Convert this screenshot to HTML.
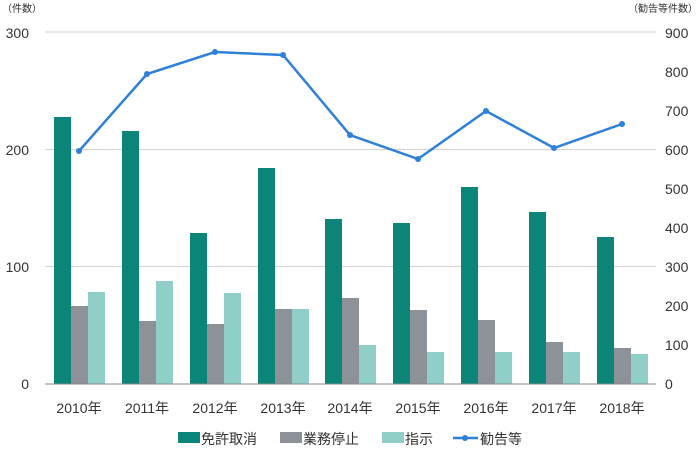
<!DOCTYPE html>
<html><head><meta charset="utf-8"><style>
body{margin:0;background:#fff}
text{font-family:"Liberation Sans","Noto Sans CJK JP",sans-serif;fill:#333}
</style></head><body>
<svg width="700" height="448" xmlns="http://www.w3.org/2000/svg">
<text x="2" y="12" font-size="10">（件数）</text>
<text x="698" y="12" font-size="10" text-anchor="end">（勧告等件数）</text>
<g stroke="#d6d6d6" stroke-width="1.3">
<line x1="45" x2="656" y1="32" y2="32"/><line x1="45" x2="656" y1="149.5" y2="149.5"/><line x1="45" x2="656" y1="266.5" y2="266.5"/>
</g>
<g font-size="14" text-anchor="end">
<text x="29" y="389">0</text><text x="29" y="272">100</text><text x="29" y="155">200</text><text x="29" y="38">300</text>
</g>
<g font-size="14">
<text x="665" y="389">0</text><text x="665" y="350">100</text><text x="665" y="311">200</text><text x="665" y="272">300</text><text x="665" y="233">400</text><text x="665" y="194">500</text><text x="665" y="155">600</text><text x="665" y="116">700</text><text x="665" y="77">800</text><text x="665" y="38">900</text>
</g>
<g>
<rect x="54" y="117" width="17" height="267" fill="#0a8577"/><rect x="71" y="306" width="17" height="78" fill="#8c9297"/><rect x="88" y="292" width="17" height="92" fill="#8fcfc7"/>
<rect x="122" y="131" width="17" height="253" fill="#0a8577"/><rect x="139" y="321" width="17" height="63" fill="#8c9297"/><rect x="156" y="281" width="17" height="103" fill="#8fcfc7"/>
<rect x="190" y="233" width="17" height="151" fill="#0a8577"/><rect x="207" y="324" width="17" height="60" fill="#8c9297"/><rect x="224" y="293" width="17" height="91" fill="#8fcfc7"/>
<rect x="258" y="168" width="17" height="216" fill="#0a8577"/><rect x="275" y="309" width="17" height="75" fill="#8c9297"/><rect x="292" y="309" width="17" height="75" fill="#8fcfc7"/>
<rect x="325" y="219" width="17" height="165" fill="#0a8577"/><rect x="342" y="298" width="17" height="86" fill="#8c9297"/><rect x="359" y="345" width="17" height="39" fill="#8fcfc7"/>
<rect x="393" y="223" width="17" height="161" fill="#0a8577"/><rect x="410" y="310" width="17" height="74" fill="#8c9297"/><rect x="427" y="352" width="17" height="32" fill="#8fcfc7"/>
<rect x="461" y="187" width="17" height="197" fill="#0a8577"/><rect x="478" y="320" width="17" height="64" fill="#8c9297"/><rect x="495" y="352" width="17" height="32" fill="#8fcfc7"/>
<rect x="529" y="212" width="17" height="172" fill="#0a8577"/><rect x="546" y="342" width="17" height="42" fill="#8c9297"/><rect x="563" y="352" width="17" height="32" fill="#8fcfc7"/>
<rect x="597" y="237" width="17" height="147" fill="#0a8577"/><rect x="614" y="348" width="17" height="36" fill="#8c9297"/><rect x="631" y="354" width="17" height="30" fill="#8fcfc7"/>
</g>
<line x1="45" x2="656" y1="384" y2="384" stroke="#888" stroke-width="1"/>
<polyline fill="none" stroke="#2f80d9" stroke-width="2.5" points="79,151 147,74 215,52 283,55 350,135 418,159 486,111 554,148 622,124"/>
<g fill="#2f80d9"><circle cx="79" cy="151" r="3"/><circle cx="147" cy="74" r="3"/><circle cx="215" cy="52" r="3"/><circle cx="283" cy="55" r="3"/><circle cx="350" cy="135" r="3"/><circle cx="418" cy="159" r="3"/><circle cx="486" cy="111" r="3"/><circle cx="554" cy="148" r="3"/><circle cx="622" cy="124" r="3"/></g>
<g font-size="14" text-anchor="middle">
<text x="79" y="413">2010年</text><text x="147" y="413">2011年</text><text x="215" y="413">2012年</text><text x="283" y="413">2013年</text><text x="350" y="413">2014年</text><text x="418" y="413">2015年</text><text x="486" y="413">2016年</text><text x="554" y="413">2017年</text><text x="622" y="413">2018年</text>
</g>
<g font-size="14">
<rect x="178" y="432" width="22" height="11" fill="#0a8577"/><text x="201" y="444">免許取消</text>
<rect x="280" y="432" width="22" height="11" fill="#8c9297"/><text x="303" y="444">業務停止</text>
<rect x="382" y="432" width="22" height="11" fill="#8fcfc7"/><text x="405" y="444">指示</text>
<line x1="453" x2="478" y1="438" y2="438" stroke="#2f80d9" stroke-width="2.5"/><circle cx="465" cy="438" r="3" fill="#2f80d9"/><text x="480" y="444">勧告等</text>
</g>
</svg>
</body></html>
